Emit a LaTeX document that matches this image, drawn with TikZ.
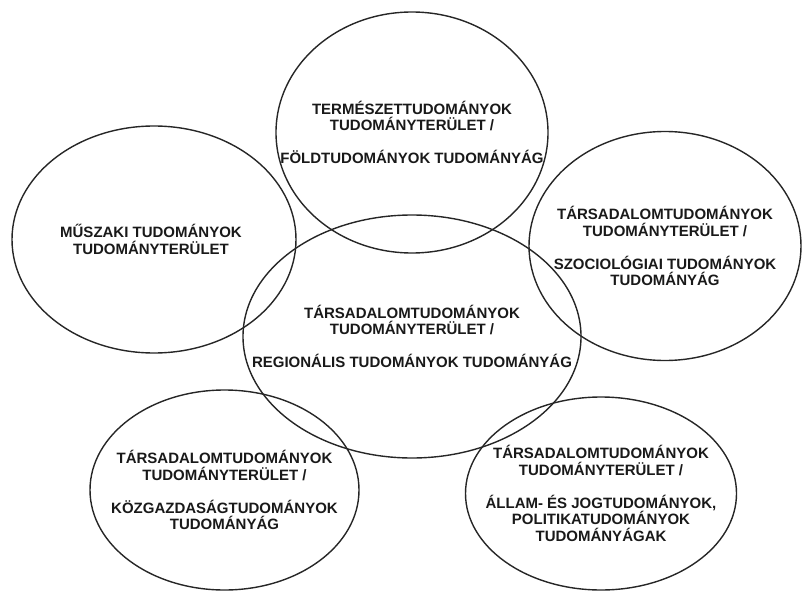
\documentclass[tikz,border=0pt]{standalone}
\usepackage{fontspec}
\setmainfont{Liberation Sans}
\usetikzlibrary{shapes.geometric}

\begin{document}
\begin{tikzpicture}[x=1pt,y=-1pt,
        terulet/.style={draw=black!85,line width=1.4pt,ellipse,inner sep=0pt},
        felirat/.style={align=center,font=\bfseries\fontsize{15}{16.5}\selectfont,text=black!90}]
        \useasboundingbox (0,0) rectangle (802,591);

        \node[terulet,minimum width=272pt,minimum height=241pt] (fold) at (412,132.5) {};
        \node[terulet,minimum width=284pt,minimum height=227pt] (muszaki) at (154,239.5) {};
        \node[terulet,minimum width=272pt,minimum height=229pt] (szoc) at (665,246) {};
        \node[terulet,minimum width=338pt,minimum height=243pt] (regio) at (412,336.5) {};
        \node[terulet,minimum width=269pt,minimum height=200pt] (kozgazd) at (224.5,490) {};
        \node[terulet,minimum width=271pt,minimum height=193pt] (allam) at (601,493.5) {};

        \node[felirat] (fold_t) at (fold) {TERMÉSZETTUDOMÁNYOK\\TUDOMÁNYTERÜLET /\\[16.5pt]FÖLDTUDOMÁNYOK TUDOMÁNYÁG};
        \node[felirat,xshift=-3pt] (muszaki_t) at (muszaki) {MŰSZAKI TUDOMÁNYOK\\TUDOMÁNYTERÜLET};
        \node[felirat] (szoc_t) at (szoc) {TÁRSADALOMTUDOMÁNYOK\\TUDOMÁNYTERÜLET /\\[16.5pt]SZOCIOLÓGIAI TUDOMÁNYOK\\TUDOMÁNYÁG};
        \node[felirat] (regio_t) at (regio) {TÁRSADALOMTUDOMÁNYOK\\TUDOMÁNYTERÜLET /\\[16.5pt]REGIONÁLIS TUDOMÁNYOK TUDOMÁNYÁG};
        \node[felirat] (kozgazd_t) at (kozgazd) {TÁRSADALOMTUDOMÁNYOK\\TUDOMÁNYTERÜLET /\\[16.5pt]KÖZGAZDASÁGTUDOMÁNYOK\\TUDOMÁNYÁG};
        \node[felirat] (allam_t) at (allam) {TÁRSADALOMTUDOMÁNYOK\\TUDOMÁNYTERÜLET /\\[16.5pt]ÁLLAM- ÉS JOGTUDOMÁNYOK,\\POLITIKATUDOMÁNYOK\\TUDOMÁNYÁGAK};

    \end{tikzpicture}
\end{document}
